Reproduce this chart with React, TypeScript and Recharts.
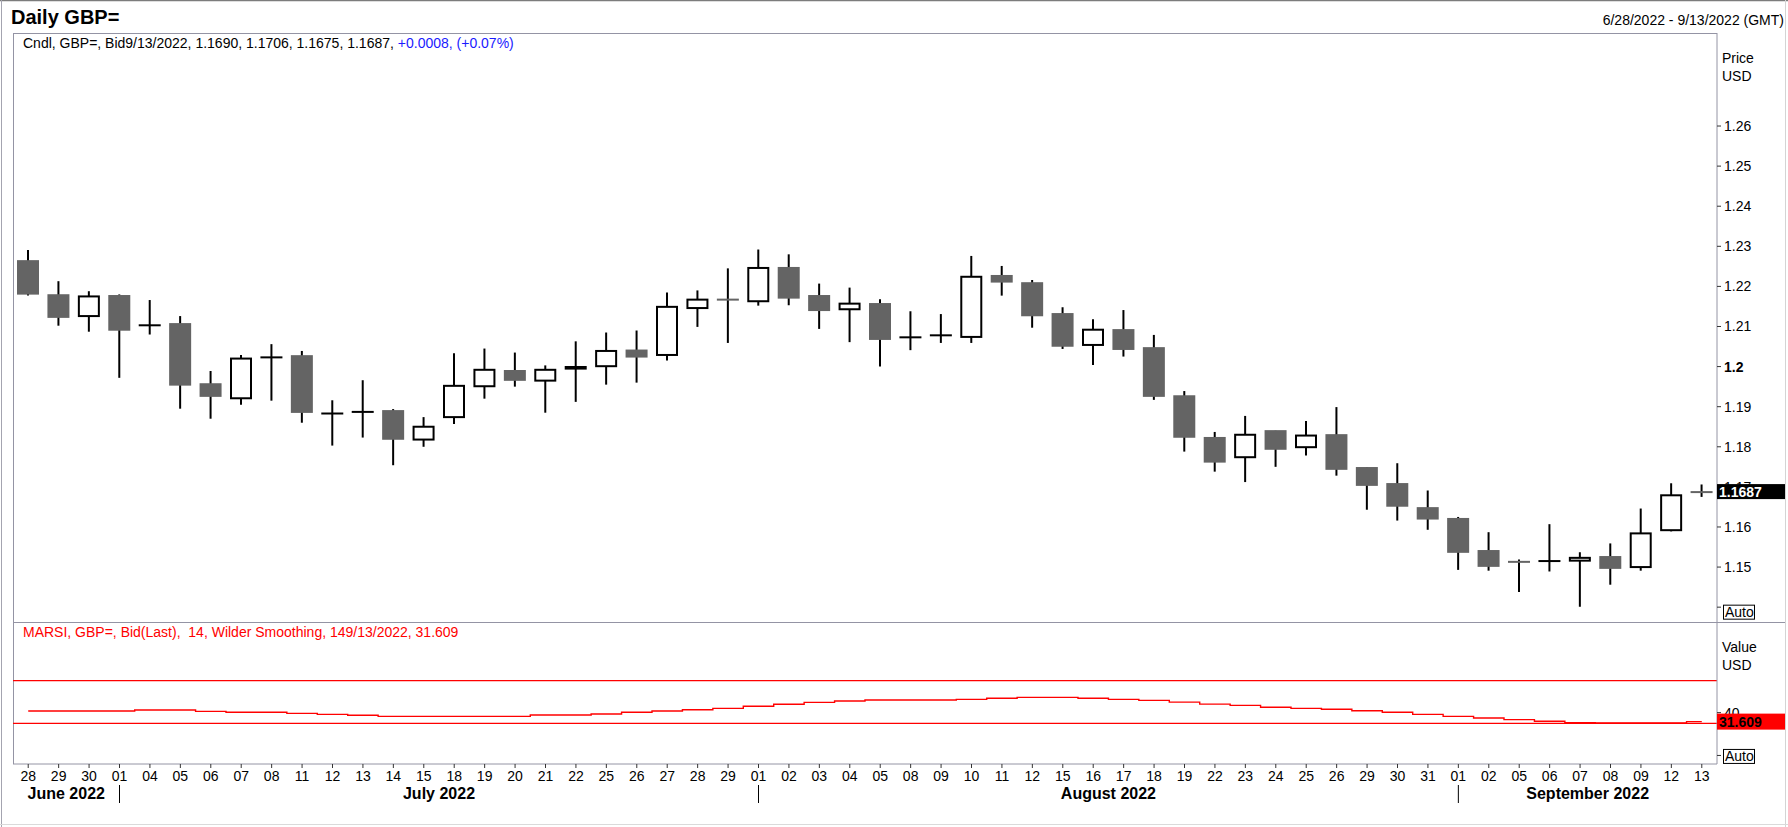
import React from 'react'
import { ComposedChart, Bar, Line, XAxis, YAxis, ReferenceLine } from 'recharts'

// ---- data ----
const DAYS = [
  '28', '29', '30',
  '01', '04', '05', '06', '07', '08', '11', '12', '13', '14', '15', '18', '19', '20', '21', '22', '25', '26', '27', '28', '29',
  '01', '02', '03', '04', '05', '08', '09', '10', '11', '12', '15', '16', '17', '18', '19', '22', '23', '24', '25', '26', '29', '30', '31',
  '01', '02', '05', '06', '07', '08', '09', '12', '13',
]
const MONTHS = ['June 2022', 'July 2022', 'August 2022', 'September 2022']
const MONTH_START = [0, 3, 24, 47]

const OPEN = [
  1.2263, 1.2178, 1.2126,
  1.2176, 1.2102, 1.2106, 1.1956, 1.1921, 1.2022, 1.2026, 1.1882, 1.1884, 1.1889, 1.1818, 1.1874, 1.1951, 1.1989, 1.1965, 1.1995, 1.2001, 1.2040, 1.2029, 1.2146, 1.2168,
  1.2163, 1.2246, 1.2176, 1.2143, 1.2156, 1.2072, 1.2077, 1.2074, 1.2226, 1.2208, 1.2131, 1.2054, 1.2091, 1.2046, 1.1926, 1.1822, 1.1774, 1.1839, 1.1799, 1.1829, 1.1747, 1.1707, 1.1647,
  1.1620, 1.1540, 1.1514, 1.1514, 1.1516, 1.1525, 1.1500, 1.1592, 1.1690,
]
const HIGH = [
  1.2291, 1.2213, 1.2188,
  1.2180, 1.2166, 1.2126, 1.1989, 1.2029, 1.2056, 1.2039, 1.1916, 1.1966, 1.1894, 1.1874, 1.2033, 1.2045, 1.2035, 1.2003, 1.2063, 1.2085, 1.2090, 1.2185, 1.2190, 1.2245,
  1.2292, 1.2280, 1.2207, 1.2197, 1.2168, 1.2138, 1.2131, 1.2276, 1.2251, 1.2216, 1.2148, 1.2118, 1.2141, 1.2079, 1.1939, 1.1837, 1.1877, 1.1840, 1.1864, 1.1899, 1.1749, 1.1759, 1.1691,
  1.1625, 1.1587, 1.1519, 1.1607, 1.1537, 1.1559, 1.1646, 1.1709, 1.1706,
]
const LOW = [
  1.2177, 1.2102, 1.2087,
  1.1972, 1.2080, 1.1895, 1.1870, 1.1905, 1.1915, 1.1860, 1.1803, 1.1823, 1.1754, 1.1800, 1.1857, 1.1920, 1.1950, 1.1885, 1.1912, 1.1955, 1.1960, 1.2015, 1.2099, 1.2059,
  1.2152, 1.2153, 1.2094, 1.2061, 1.2000, 1.2041, 1.2059, 1.2059, 1.2177, 1.2097, 1.2044, 1.2004, 1.2025, 1.1917, 1.1788, 1.1738, 1.1712, 1.1750, 1.1778, 1.1728, 1.1643, 1.1616, 1.1593,
  1.1493, 1.1491, 1.1438, 1.1489, 1.1401, 1.1456, 1.1491, 1.1589, 1.1675,
]
const CLOSE = [
  1.2182, 1.2124, 1.2175,
  1.2092, 1.2103, 1.1955, 1.1927, 1.2020, 1.2023, 1.1887, 1.1883, 1.1887, 1.1820, 1.1850, 1.1952, 1.1992, 1.1967, 1.1992, 1.1999, 1.2039, 1.2025, 1.2149, 1.2167, 1.2167,
  1.2246, 1.2172, 1.2141, 1.2157, 1.2069, 1.2073, 1.2078, 1.2224, 1.2212, 1.2128, 1.2052, 1.2092, 1.2044, 1.1927, 1.1825, 1.1763, 1.1830, 1.1795, 1.1828, 1.1745, 1.1705, 1.1653, 1.1621,
  1.1538, 1.1503, 1.1513, 1.1515, 1.1523, 1.1498, 1.1584, 1.1679, 1.1687,
]
const RSI = [
  41.5, 41.5, 41.5,
  41.5, 42.4, 42.4, 41.2, 40.3, 40.3, 39.3, 38.4, 37.5, 36.5, 36.5, 36.5, 36.5, 36.5, 37.8, 37.8, 38.7, 40.3, 41.5, 42.7, 44.0,
  45.9, 47.8, 49.6, 50.9, 51.8, 51.8, 51.8, 52.4, 53.4, 54.3, 54.3, 53.4, 52.4, 51.5, 49.8, 48.0, 46.8, 45.0, 44.0, 43.1, 41.8, 40.3, 38.4,
  36.5, 35.0, 33.5, 31.9, 30.5, 30.3, 30.3, 30.3, 31.609,
]

const PRICE_TICKS = [1.14, 1.15, 1.16, 1.17, 1.18, 1.19, 1.2, 1.21, 1.22, 1.23, 1.24, 1.25, 1.26]
const RSI_TICKS = [0, 40]
const RSI_BANDS = [70, 30]

// ---- layout ----
const W = 1788
const H = 827
const PLOT_L = 13
const PLOT_R = 1717
const PRICE_TOP = 33
const SPLIT = 622
const RSI_BOTTOM = 764
const AXIS_W = W - PLOT_R
const BAND = (PLOT_R - PLOT_L) / DAYS.length
const FONT = '"Liberation Sans", Arial, sans-serif'
const FRAME = '#9494a4'
const BEAR = '#646464'

const LAST = DAYS.length - 1
const LAST_CLOSE = CLOSE[LAST]
const LAST_RSI = RSI[LAST]

const data = DAYS.map((d, i) => ({
  key: i,
  day: d,
  open: OPEN[i],
  high: HIGH[i],
  low: LOW[i],
  close: CLOSE[i],
  rsi: RSI[i],
}))

function Candle(props: any) {
  const { x, y, width, height, payload } = props
  if (x == null || y == null || height == null) return null
  const top = Math.min(y, y + height)
  const h = Math.abs(height)
  const { open, high, low, close } = payload
  const k = h / (high - low)
  const py = (v: number) => top + (high - v) * k
  const cx = x + width / 2
  const up = close >= open
  const bTop = py(Math.max(open, close))
  const bBot = py(Math.min(open, close))
  const bh = bBot - bTop
  let body
  if (bh < 1.5) {
    body = <line x1={x} x2={x + width} y1={py(close)} y2={py(close)} stroke={up ? '#000' : BEAR} strokeWidth={2} />
  } else if (up) {
    body = <rect x={x + 1} y={bTop} width={width - 2} height={bh} fill="#fff" stroke="#000" strokeWidth={2} />
  } else {
    body = <rect x={x} y={bTop - 1} width={width} height={bh + 2} fill={BEAR} />
  }
  return (
    <g>
      <line x1={cx} x2={cx} y1={top} y2={top + h} stroke="#000" strokeWidth={2} />
      {body}
    </g>
  )
}

function AutoBox({ x, y }: { x: number; y: number }) {
  return (
    <g>
      <rect x={x - 0.5} y={y} width={31} height={14} fill="#fff" stroke="#000" strokeWidth={1} />
      <text x={x + 1} y={y + 12} fontSize={14} fontFamily={FONT} fill="#000">Auto</text>
    </g>
  )
}

function PriceTick(props: any) {
  const { x, y, payload } = props
  const v = payload.value
  if (v === LAST_CLOSE) {
    return (
      <g>
        <rect x={PLOT_R} y={y - 8} width={68} height={15} fill="#000" />
        <text x={PLOT_R + 2} y={y + 5} fontSize={14} fontWeight="bold" fontFamily={FONT} fill="#fff">{v.toFixed(4)}</text>
      </g>
    )
  }
  if (v === PRICE_TICKS[0]) return <AutoBox x={x} y={y - 2} />
  return (
    <text x={x} y={y + 5} fontSize={14} fontFamily={FONT} fill="#000" fontWeight={v === 1.2 ? 'bold' : 'normal'}>
      {String(Number(v.toFixed(2)))}
    </text>
  )
}

function RsiTick(props: any) {
  const { x, y, payload } = props
  const v = payload.value
  if (v === LAST_RSI) {
    return (
      <g>
        <rect x={PLOT_R} y={y - 8} width={68} height={16} fill="#ff0000" />
        <text x={PLOT_R + 2} y={y + 5} fontSize={14} fontWeight="bold" fontFamily={FONT} fill="#000">{v.toFixed(3)}</text>
      </g>
    )
  }
  if (v === 0) return <AutoBox x={x} y={y - 6} />
  return <text x={x} y={y + 5} fontSize={14} fontFamily={FONT} fill="#000">{v}</text>
}

function DayTick(props: any) {
  const { x, y, payload } = props
  const i = payload.value as number
  const m = MONTH_START.indexOf(i)
  let month = null
  if (m >= 0) {
    const left = x - (i + 0.5) * BAND
    const start = i === 0 ? left : x
    const nextI = MONTH_START[m + 1]
    const end = nextI === undefined ? left + DAYS.length * BAND : left + (nextI + 0.5) * BAND
    month = (
      <g>
        {i > 0 && <line x1={x} x2={x} y1={y + 15} y2={y + 33} stroke="#000" strokeWidth={1} />}
        <text x={(start + end) / 2} y={y + 29} textAnchor="middle" fontSize={16} fontWeight="bold" fontFamily={FONT} fill="#000">
          {MONTHS[m]}
        </text>
      </g>
    )
  }
  return (
    <g>
      <text x={x} y={y + 11} textAnchor="middle" fontSize={14} fontFamily={FONT} fill="#000">{DAYS[i]}</text>
      {month}
    </g>
  )
}

export default function App() {
  const chg = CLOSE[LAST] - CLOSE[LAST - 1]
  const pct = (chg / CLOSE[LAST - 1]) * 100
  const sign = chg >= 0 ? '+' : ''
  const header = `Cndl, GBP=, Bid9/13/2022, ${OPEN[LAST].toFixed(4)}, ${HIGH[LAST].toFixed(4)}, ${LOW[LAST].toFixed(4)}, ${CLOSE[LAST].toFixed(4)}, `
  const changeText = `${sign}${chg.toFixed(4)}, (${sign}${pct.toFixed(2)}%)`

  return (
    <div style={{ position: 'relative', width: W, height: H, background: '#fff', fontFamily: FONT }}>
      <style>{'body{margin:0}'}</style>

      {/* frame + static texts */}
      <svg width={W} height={H} style={{ position: 'absolute', left: 0, top: 0 }}>
        <line x1={0} x2={W} y1={0.5} y2={0.5} stroke="#7c7c7c" strokeWidth={1.5} />
        <line x1={1.5} x2={1.5} y1={0} y2={H} stroke="#a4a4b0" strokeWidth={1} />
        <line x1={W - 2.5} x2={W - 2.5} y1={0} y2={H} stroke="#d4d4d4" strokeWidth={1} />
        <line x1={0} x2={W} y1={H - 2.5} y2={H - 2.5} stroke="#dadada" strokeWidth={1} />

        <line x1={PLOT_L} x2={PLOT_R} y1={PRICE_TOP + 0.5} y2={PRICE_TOP + 0.5} stroke={FRAME} />
        <line x1={PLOT_L + 0.5} x2={PLOT_L + 0.5} y1={PRICE_TOP} y2={RSI_BOTTOM} stroke={FRAME} />
        <line x1={PLOT_L} x2={W - 3} y1={SPLIT + 0.5} y2={SPLIT + 0.5} stroke={FRAME} />

        <text x={11} y={24} fontSize={20} fontWeight="bold" fill="#000">Daily GBP=</text>
        <text x={W - 4} y={25} fontSize={14} textAnchor="end" fill="#000">6/28/2022 - 9/13/2022 (GMT)</text>
        <text x={23} y={48} fontSize={14}>
          <tspan fill="#000">{header}</tspan>
          <tspan fill="#1a1aff">{changeText}</tspan>
        </text>
        <text x={1722} y={63} fontSize={14} fill="#000">Price</text>
        <text x={1722} y={81} fontSize={14} fill="#000">USD</text>
        <text x={23} y={637} fontSize={14} fill="#ff0000" style={{ whiteSpace: 'pre' }}>
          {`MARSI, GBP=, Bid(Last),  14, Wilder Smoothing, 149/13/2022, ${LAST_RSI.toFixed(3)}`}
        </text>
        <text x={1722} y={652} fontSize={14} fill="#000">Value</text>
        <text x={1722} y={670} fontSize={14} fill="#000">USD</text>
      </svg>

      {/* price pane */}
      <div style={{ position: 'absolute', left: 0, top: 0 }}>
        <ComposedChart
          width={W}
          height={SPLIT + 10}
          data={data}
          margin={{ top: PRICE_TOP, right: 0, bottom: 10, left: PLOT_L }}
        >
          <XAxis dataKey="key" type="category" hide />
          <YAxis
            orientation="right"
            width={AXIS_W}
            domain={[1.1363, 1.2832]}
            ticks={[...PRICE_TICKS, LAST_CLOSE]}
            interval={0}
            allowDataOverflow
            axisLine={{ stroke: FRAME }}
            tickLine={{ stroke: '#333' }}
            tickSize={4}
            tickMargin={3}
            tick={PriceTick}
          />
          <Bar
            dataKey={(d: any) => [d.low, d.high]}
            barSize={22}
            shape={Candle}
            isAnimationActive={false}
          />
        </ComposedChart>
      </div>

      {/* RSI pane + date axis */}
      <div style={{ position: 'absolute', left: 0, top: 0 }}>
        <ComposedChart
          width={W}
          height={H}
          data={data}
          margin={{ top: SPLIT, right: 0, bottom: 0, left: PLOT_L }}
        >
          <XAxis
            dataKey="key"
            type="category"
            scale="band"
            interval={0}
            height={H - RSI_BOTTOM}
            axisLine={{ stroke: FRAME }}
            tickLine={{ stroke: '#333' }}
            tickSize={4}
            tickMargin={2}
            tick={DayTick}
          />
          <YAxis
            orientation="right"
            width={AXIS_W}
            domain={[-8, 124.7]}
            ticks={[...RSI_TICKS, LAST_RSI]}
            interval={0}
            allowDataOverflow
            axisLine={{ stroke: FRAME }}
            tickLine={{ stroke: '#333' }}
            tickSize={4}
            tickMargin={3}
            tick={RsiTick}
          />
          {RSI_BANDS.map((v) => (
            <ReferenceLine key={v} y={v} stroke="#ff0000" strokeWidth={1.2} />
          ))}
          <Line
            type="step"
            dataKey="rsi"
            stroke="#ff0000"
            strokeWidth={1.4}
            dot={false}
            isAnimationActive={false}
          />
        </ComposedChart>
      </div>
    </div>
  )
}
